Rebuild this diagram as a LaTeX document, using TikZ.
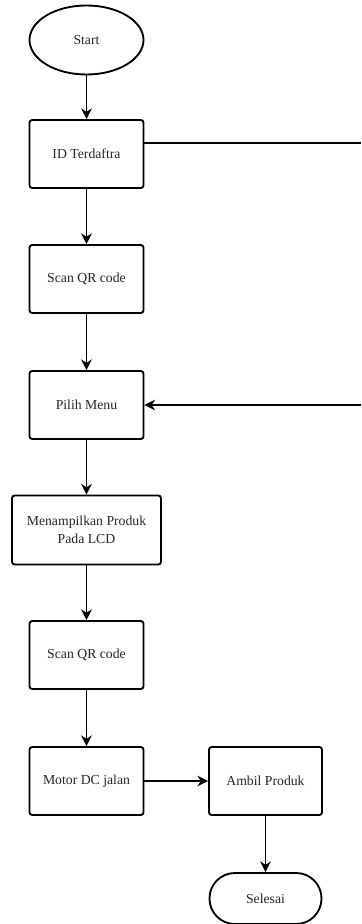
\documentclass[tikz,border=0pt]{standalone}
\usepackage{fontspec}
\setmainfont{Liberation Serif}
\usetikzlibrary{arrows.meta}
\usetikzlibrary{shapes.geometric}

\begin{document}
\begin{tikzpicture}[x=0.75pt, y=-0.75pt,
  box/.style={draw, line width=1.4pt, rounded corners=2pt, minimum width=85.5pt, minimum height=51pt, align=center, font=\fontsize{10.3}{13.5}\selectfont, text=black!85},
  flow/.style={line width=1.3pt, -{Stealth[length=8pt, width=8pt]}}]
\useasboundingbox (0,0) rectangle (361,924);
\coordinate (a) at (86.5,40);
\coordinate (b) at (86.5,154);
\coordinate (c) at (86.5,279);
\coordinate (d) at (86.5,405);
\coordinate (e) at (86.5,530);
\coordinate (f) at (86.5,655);
\coordinate (g) at (86.5,781);
\coordinate (h) at (265.5,781);
\coordinate (i) at (265.5,898.5);
% draws boxes
\node[box, ellipse, rounded corners=0pt, minimum height=51.75pt] (start) at (a) {Start};
\node[box] (id) at (b) {ID Terdaftra};
\node[box] (scanA) at (c) {Scan QR code};
\node[box] (menu) at (d) {Pilih Menu};
\node[box, minimum width=111.75pt, minimum height=51.75pt] (lcd) at (e) {Menampilkan Produk\\Pada LCD};
\node[box] (scanB) at (f) {Scan QR code};
\node[box] (motor) at (g) {Motor DC jalan};
\node[box, minimum width=84.75pt] (ambil) at (h) {Ambil Produk};
\node[box, rounded corners=19pt, minimum width=84pt, minimum height=38.25pt] (selesai) at (i) {Selesai};
% free ends at the right margin
\coordinate (edgeB) at (361,405);
\coordinate (edgeA) at (id.11 -| edgeB);
% draws edges
\draw[flow] (start) to (id);
\draw[flow] (id) to (scanA);
\draw[flow] (scanA) to (menu);
\draw[flow] (menu) to (lcd);
\draw[flow] (lcd) to (scanB);
\draw[flow] (scanB) to (motor);
\draw[flow] (motor) to (ambil);
\draw[flow] (ambil) to (selesai);
\draw[line width=1.3pt] (id.11) to (edgeA);
\draw[flow] (edgeB) to (menu);
\end{tikzpicture}
\end{document}
